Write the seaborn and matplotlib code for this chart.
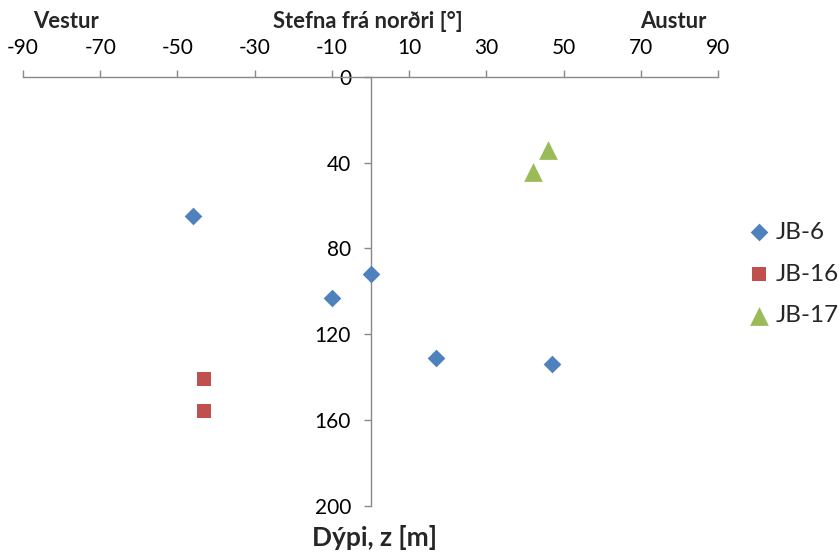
import matplotlib
matplotlib.use("Agg")
import matplotlib.pyplot as plt
import seaborn as sns
import pandas as pd

# Data
jb6_dir = [-46, 0, -10, 17, 47]
jb6_depth = [65, 92, 103, 131, 134]
jb16_dir = [-43, -43]
jb16_depth = [141, 156]
jb17_dir = [46, 42]
jb17_depth = [34, 44.5]

x_ticks = [-90, -70, -50, -30, -10, 10, 30, 50, 70, 90]
y_ticks = [0, 40, 80, 120, 160, 200]

sns.set_theme(style="white")
plt.rcParams['font.family'] = ['Lato', 'DejaVu Sans']
plt.rcParams['axes.unicode_minus'] = False

W, H = 839, 554
fig = plt.figure(figsize=(W / 100, H / 100), dpi=100)
ax = fig.add_axes([23 / W, 1 - 505.5 / H, (718 - 23) / W, (505.5 - 77) / H])

spine_col = '#898989'

series = [
    ("JB-6", jb6_dir, jb6_depth, 'D', '#4F81BD', 9.0),
    ("JB-16", jb16_dir, jb16_depth, 's', '#C0504D', 10.0),
    ("JB-17", jb17_dir, jb17_depth, '^', '#9BBB59', 13.5),
]
for name, xs, ys, mk, col, ms in series:
    df = pd.DataFrame({"dir": xs, "depth": ys})
    sns.scatterplot(data=df, x="dir", y="depth", ax=ax, marker=mk, color=col,
                    s=ms ** 2, linewidth=0, label=name, clip_on=False, zorder=3)

ax.set_xlim(-90, 90)
ax.set_ylim(200, 0)
ax.set_xticks(x_ticks)
ax.set_yticks(y_ticks)
ax.set_xlabel("")
ax.set_ylabel("")

ax.xaxis.tick_top()
ax.spines['bottom'].set_visible(False)
ax.spines['right'].set_visible(False)
ax.spines['left'].set_position(('data', 0))
for s in ('top', 'left'):
    ax.spines[s].set_color(spine_col)
    ax.spines[s].set_linewidth(1.0)

ax.tick_params(axis='x', which='major', direction='out', length=5, width=1,
               color=spine_col, pad=8.5, labelsize=15, labelcolor='black',
               top=True, bottom=False)
ax.tick_params(axis='y', which='major', direction='out', length=5, width=1,
               color=spine_col, pad=9, labelsize=15, labelcolor='black',
               left=True, right=False)

leg = ax.legend(loc='center left', bbox_to_anchor=(744 / W, 1 - 274 / H),
                bbox_transform=fig.transFigure, frameon=False, fontsize=17.5,
                handletextpad=0.1, labelspacing=0.85, handlelength=1.2,
                borderaxespad=0, borderpad=0)

fig.text(66 / W, 1 - 21 / H, "Vestur", ha='center', va='center',
         fontsize=15.8, fontweight='bold')
fig.text(368 / W, 1 - 21 / H, "Stefna frá norðri [°]", ha='center', va='center',
         fontsize=15.8, fontweight='bold')
fig.text(673 / W, 1 - 21 / H, "Austur", ha='center', va='center',
         fontsize=15.8, fontweight='bold')
fig.text(375 / W, 1 - 537 / H, "Dýpi, z [m]", ha='center', va='center',
         fontsize=19, fontweight='bold')

fig.savefig("out.png", dpi=100, facecolor='white')
